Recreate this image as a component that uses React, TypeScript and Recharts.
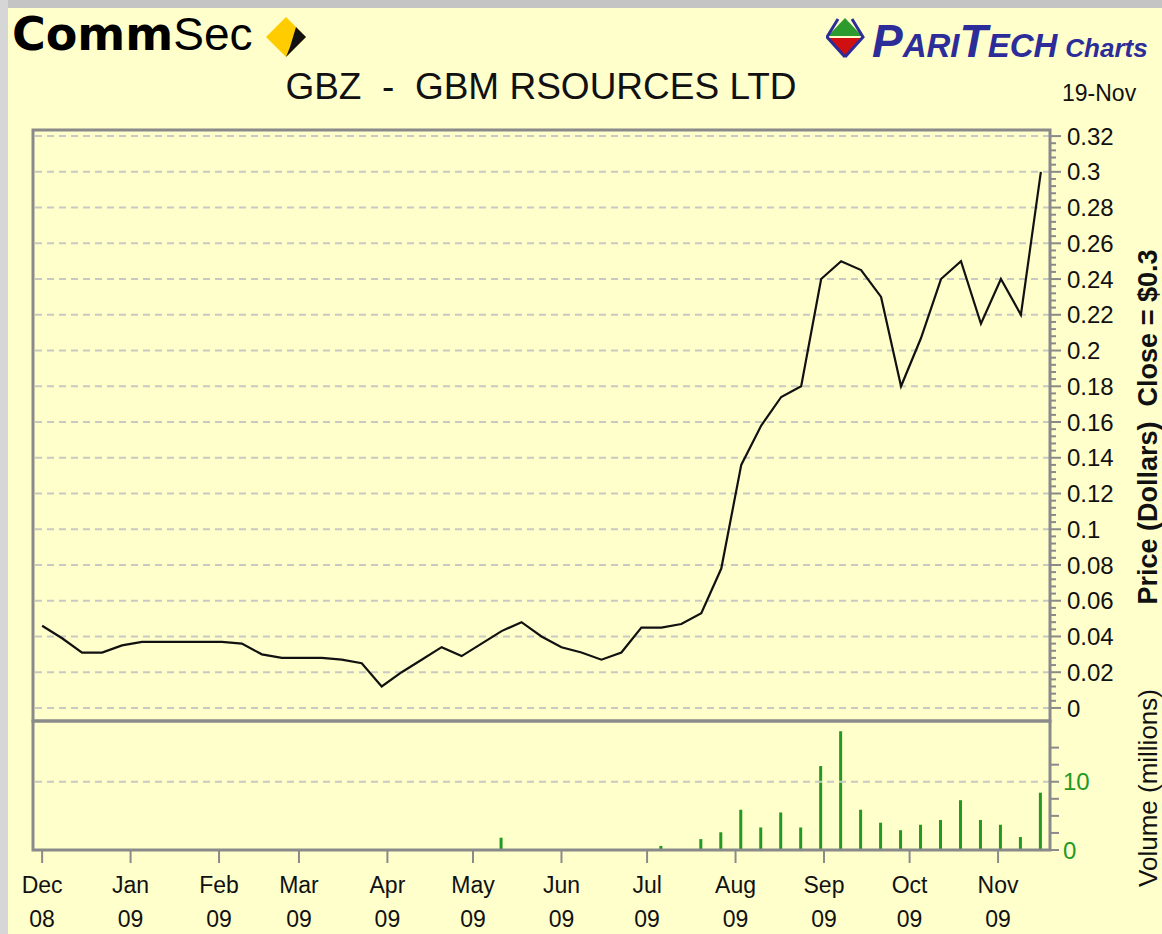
import { LineChart, Line, BarChart, Bar, XAxis, YAxis, ReferenceLine } from 'recharts';

// weekly closes, week starting Mon 1 Dec 2008 through Mon 16 Nov 2009
const closes = [
  0.046, 0.039, 0.031, 0.031, 0.035, 0.037, 0.037, 0.037, 0.037, 0.037,
  0.036, 0.030, 0.028, 0.028, 0.028, 0.027, 0.025, 0.012, 0.020, 0.027,
  0.034, 0.029, 0.036, 0.043, 0.048, 0.040, 0.034, 0.031, 0.027, 0.031,
  0.045, 0.045, 0.047, 0.053, 0.078, 0.136, 0.158, 0.174, 0.180, 0.240,
  0.250, 0.245, 0.230, 0.180, 0.207, 0.240, 0.250, 0.215, 0.240, 0.220,
  0.300,
];

// weekly volume in millions
const volumes = [
  0, 0, 0, 0, 0, 0, 0, 0, 0, 0,
  0, 0, 0, 0, 0, 0, 0, 0, 0, 0,
  0, 0, 0, 1.8, 0, 0, 0, 0, 0, 0,
  0, 0.6, 0, 1.6, 2.6, 5.9, 3.3, 5.5, 3.3, 12.3,
  17.4, 5.9, 4.0, 2.9, 3.7, 4.4, 7.3, 4.4, 3.7, 1.9,
  8.4,
];

const monthDays = [0, 31, 62, 90, 121, 151, 182, 212, 243, 274, 304, 335];
const monthNames = ['Dec', 'Jan', 'Feb', 'Mar', 'Apr', 'May', 'Jun', 'Jul', 'Aug', 'Sep', 'Oct', 'Nov'];
const monthYears = ['08', '09', '09', '09', '09', '09', '09', '09', '09', '09', '09', '09'];

const priceLabels = [0, 0.02, 0.04, 0.06, 0.08, 0.1, 0.12, 0.14, 0.16, 0.18, 0.2, 0.22, 0.24, 0.26, 0.28, 0.3, 0.32];
const volumeTicks = [0, 2.5, 5, 7.5, 10, 12.5, 15];
const volumeLabels = [0, 10];

const rows = closes.map((c, i) => ({ t: i * 7, price: c, vol: volumes[i] }));

const priceMinor: number[] = [];
for (let k = 0; k <= 80; k++) priceMinor.push(Math.round(k * 4) / 1000);

const W = 1162;
const H = 934;
const LEFT = 33;
const RIGHT = 1050;
const P_TOP = 130;
const DIV = 721;
const V_BOT = 850;
const AXIS_W = 100;
const FONT = '"Liberation Sans", Arial, sans-serif';
const BG = '#FFFFCC';
const FRAME = '#8a8a8a';
const GRID = '#c9c9c4';
const GREEN = '#229922';
const X_DOMAIN = [-3.2, 353.2];

const PriceTick = (props: any) => {
  const { x, y, payload } = props;
  const v = payload.value as number;
  const major = priceLabels.some((p) => Math.abs(p - v) < 1e-6);
  return (
    <g>
      <line x1={x} x2={x + (major ? 11 : 6)} y1={y} y2={y} stroke={FRAME} strokeWidth={2} />
      {major && (
        <text x={x + 17} y={y} dy="0.36em" fontSize={24} fontFamily={FONT} fill="#111">
          {String(Number(v.toFixed(2)))}
        </text>
      )}
    </g>
  );
};

const VolTick = (props: any) => {
  const { x, y, payload } = props;
  const v = payload.value as number;
  const lab = volumeLabels.includes(v);
  return (
    <g>
      <line x1={x} x2={x + 9} y1={y} y2={y} stroke={FRAME} strokeWidth={2} />
      {lab && (
        <text x={x + 13} y={y} dy="0.36em" fontSize={24} fontFamily={FONT} fill={GREEN}>
          {v}
        </text>
      )}
    </g>
  );
};

const MonthTick = (props: any) => {
  const { x, y, payload, index } = props;
  const i = index ?? monthDays.indexOf(payload.value);
  return (
    <g>
      <line x1={x} x2={x} y1={y} y2={y + 13} stroke={FRAME} strokeWidth={2} />
      <text x={x} y={y + 43} textAnchor="middle" fontSize={23} fontFamily={FONT} fill="#111">
        {monthNames[i]}
      </text>
      <text x={x} y={y + 77} textAnchor="middle" fontSize={23} fontFamily={FONT} fill="#111">
        {monthYears[i]}
      </text>
    </g>
  );
};

function Logos() {
  return (
    <>
      <div style={{ position: 'absolute', left: 12, top: 4, color: '#000', lineHeight: '60px', whiteSpace: 'nowrap' }}>
        <span style={{ fontFamily: '"DejaVu Sans", sans-serif', fontWeight: 'bold', fontSize: 46 }}>Comm</span>
        <span style={{ fontFamily: FONT, fontSize: 46 }}>Sec</span>
      </div>
      <svg style={{ position: 'absolute', left: 266, top: 15 }} width={44} height={46}>
        <polygon points="20,2 40,22 20,42 0,22" fill="#FFCC00" />
        <polygon points="30,12 40,22 20,42 24,32" fill="#111" />
      </svg>
      <svg style={{ position: 'absolute', left: 826, top: 16 }} width={40} height={42}>
        <polygon points="19,2 36,20 2,20" fill="#2d9a2d" />
        <polygon points="2,22 36,22 19,40" fill="#d01010" />
        <polyline points="12,3 1,21 19,41" fill="none" stroke="#2d2d9a" strokeWidth={3} />
        <polyline points="26,3 37,21 19,41" fill="none" stroke="#2d2d9a" strokeWidth={3} />
      </svg>
      <div style={{ position: 'absolute', left: 872, top: 14, fontFamily: FONT, fontStyle: 'italic', fontWeight: 900, color: '#2d2d9a', whiteSpace: 'nowrap' }}>
        <span style={{ fontSize: 46, lineHeight: '50px' }}>P</span>
        <span style={{ fontSize: 33 }}>ARI</span>
        <span style={{ fontSize: 46 }}>T</span>
        <span style={{ fontSize: 33 }}>ECH</span>
        <span style={{ fontSize: 26, marginLeft: 8 }}>Charts</span>
      </div>
    </>
  );
}

export default function App() {
  return (
    <div style={{ position: 'absolute', left: 0, top: 0, width: W, height: H, background: BG, overflow: 'hidden' }}>
      <div style={{ position: 'absolute', left: 0, top: 0, width: W, height: 8, background: '#c4c4c4' }} />
      <div style={{ position: 'absolute', left: 0, top: 0, width: 8, height: H, background: '#d6d6d6' }} />
      <Logos />
      <div style={{ position: 'absolute', left: 0, top: 66, width: 1082, textAlign: 'center', fontFamily: FONT, fontSize: 37, color: '#111', whiteSpace: 'pre' }}>
        {'GBZ  -  GBM RSOURCES LTD'}
      </div>
      <div style={{ position: 'absolute', left: 1062, top: 80, fontFamily: FONT, fontSize: 23, color: '#111' }}>19-Nov</div>
      <div style={{ position: 'absolute', left: 1148, top: 427, transform: 'translate(-50%, -50%) rotate(-90deg)', fontFamily: FONT, fontSize: 27, fontWeight: 'bold', color: '#111', whiteSpace: 'pre' }}>
        {'Price (Dollars)  Close = $0.3'}
      </div>
      <div style={{ position: 'absolute', left: 1148, top: 788, transform: 'translate(-50%, -50%) rotate(-90deg)', fontFamily: FONT, fontSize: 26, color: '#111', whiteSpace: 'pre' }}>
        {'Volume (millions)'}
      </div>

      <div style={{ position: 'absolute', left: 0, top: 0 }}>
        <LineChart width={W} height={H} data={rows} margin={{ top: P_TOP, right: W - RIGHT - AXIS_W, bottom: H - DIV, left: LEFT }}>
          <XAxis type="number" dataKey="t" domain={X_DOMAIN} hide allowDataOverflow />
          <YAxis
            orientation="right"
            width={AXIS_W}
            domain={[-0.0073, 0.3234]}
            ticks={priceMinor}
            interval={0}
            tick={PriceTick}
            tickSize={0}
            tickMargin={0}
            axisLine={false}
            tickLine={false}
            allowDataOverflow
          />
          {priceLabels.map((v) => (
            <ReferenceLine key={v} y={v} stroke={GRID} strokeWidth={2} strokeDasharray="7 5" />
          ))}
          <Line type="linear" dataKey="price" stroke="#111" strokeWidth={2.2} dot={false} isAnimationActive={false} />
        </LineChart>
      </div>

      <div style={{ position: 'absolute', left: 0, top: 0 }}>
        <BarChart width={W} height={H} data={rows} margin={{ top: DIV, right: W - RIGHT - AXIS_W, bottom: 0, left: LEFT }}>
          <XAxis
            type="number"
            dataKey="t"
            domain={X_DOMAIN}
            ticks={monthDays}
            interval={0}
            tick={MonthTick}
            tickSize={0}
            tickMargin={0}
            axisLine={false}
            tickLine={false}
            height={H - V_BOT}
            allowDataOverflow
          />
          <YAxis
            orientation="right"
            width={AXIS_W}
            domain={[0, 18.9]}
            ticks={volumeTicks}
            interval={0}
            tick={VolTick}
            tickSize={0}
            tickMargin={0}
            axisLine={false}
            tickLine={false}
            allowDataOverflow
          />
          <ReferenceLine y={10} stroke={GRID} strokeWidth={2} strokeDasharray="7 5" />
          <Bar dataKey="vol" fill={GREEN} barSize={3} isAnimationActive={false} />
        </BarChart>
      </div>

      <svg style={{ position: 'absolute', left: 0, top: 0, pointerEvents: 'none' }} width={W} height={H}>
        <rect x={LEFT} y={P_TOP} width={RIGHT - LEFT} height={DIV - P_TOP} fill="none" stroke={FRAME} strokeWidth={3} />
        <rect x={LEFT} y={DIV} width={RIGHT - LEFT} height={V_BOT - DIV} fill="none" stroke={FRAME} strokeWidth={3} />
      </svg>
    </div>
  );
}
